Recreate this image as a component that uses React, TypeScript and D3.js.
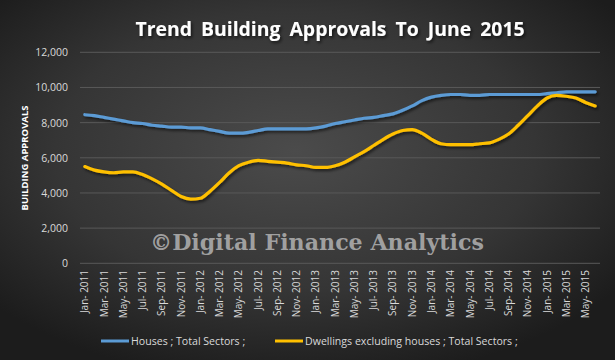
import React from 'react';
import * as d3 from 'd3';

const monthNames = ['Jan', 'Feb', 'Mar', 'Apr', 'May', 'Jun', 'Jul', 'Aug', 'Sep', 'Oct', 'Nov', 'Dec'];
const years = [2011, 2012, 2013, 2014, 2015];

const houses = [
  8450, 8400, 8300, 8200, 8100, 8000, 7950, 7850, 7800, 7750, 7750, 7700,
  7700, 7600, 7500, 7400, 7400, 7450, 7550, 7650, 7650, 7650, 7650, 7650,
  7700, 7800, 7950, 8050, 8150, 8250, 8300, 8400, 8500, 8700, 8950, 9250,
  9450, 9550, 9600, 9600, 9550, 9550, 9600, 9600, 9600, 9600, 9600, 9600,
  9650, 9700, 9750, 9750, 9750, 9750,
];
const dwellings = [
  5500, 5300, 5200, 5150, 5200, 5200, 5050, 4800, 4500, 4150, 3800, 3650,
  3700, 4100, 4600, 5150, 5550, 5750, 5850, 5800, 5750, 5700, 5600, 5550,
  5450, 5450, 5550, 5750, 6050, 6350, 6700, 7050, 7350, 7550, 7600, 7400,
  7050, 6800, 6750, 6750, 6750, 6800, 6850, 7050, 7350, 7850, 8400, 8950,
  9400, 9550, 9500, 9400, 9150, 8950,
];
const yTicks = [0, 2000, 4000, 6000, 8000, 10000, 12000];
const seriesNames = ['Houses ;  Total Sectors ;', 'Dwellings excluding houses ; Total Sectors ;'];
const seriesColors = ['#5b9bd5', '#ffc000'];

const months: string[] = [];
years.forEach((y) => monthNames.forEach((m) => months.push(`${m}-${y}`)));
const categories = months.slice(0, houses.length);

const W = 615;
const H = 360;
const left = 80;
const right = 600;
const top = 52.3;
const bottom = 263.3;

const App = () => {
  const x = d3.scaleBand().domain(categories).range([left, right]);
  const y = d3.scaleLinear().domain([0, 12000]).range([bottom, top]);
  const cx = (c: string) => (x(c) as number) + x.bandwidth() / 2;
  const line = d3
    .line<number>()
    .x((_, i) => cx(categories[i]))
    .y((d) => y(d))
    .curve(d3.curveMonotoneX);
  const labelCats = categories.filter((_, i) => i % 2 === 0);
  const font = "'Open Sans', sans-serif";

  return (
    <div style={{ position: 'absolute', left: 0, top: 0 }}>
      <svg width={W} height={H} style={{ display: 'block' }}>
        <defs>
          <radialGradient id="bg" cx="48%" cy="42%" r="65%">
            <stop offset="0%" stopColor="#4b4b4b" />
            <stop offset="60%" stopColor="#353535" />
            <stop offset="100%" stopColor="#1c1c1c" />
          </radialGradient>
          <filter id="sh" x="-5%" y="-20%" width="110%" height="140%">
            <feDropShadow dx="1.5" dy="2" stdDeviation="1.5" floodColor="#000" floodOpacity="0.6" />
          </filter>
        </defs>
        <rect width={W} height={H} fill="url(#bg)" />

        <text
          x={330}
          y={36}
          textAnchor="middle"
          fill="#ffffff"
          fontFamily={font}
          fontWeight="bold"
          fontSize={19.4}
          wordSpacing={4}
          filter="url(#sh)"
        >
          Trend Building Approvals To June 2015
        </text>

        {yTicks.map((t) => (
          <g key={t}>
            <line x1={left} x2={right} y1={y(t)} y2={y(t)} stroke="#595959" strokeWidth={1} />
            <text
              x={68}
              y={y(t) + 4}
              textAnchor="end"
              fill="#d9d9d9"
              fontFamily={font}
              fontSize={10.5}
            >
              {d3.format(',')(t)}
            </text>
          </g>
        ))}

        <text
          transform={`translate(28,158) rotate(-90)`}
          textAnchor="middle"
          fill="#ffffff"
          fontFamily={font}
          fontWeight="bold"
          fontSize={9.5}
        >
          BUILDING APPROVALS
        </text>

        {labelCats.map((c) => (
          <text
            key={c}
            transform={`translate(${cx(c) + 3.5},270) rotate(-90)`}
            textAnchor="end"
            fill="#d9d9d9"
            fontFamily={font}
            fontSize={10}
          >
            {c.replace('-', '- ')}
          </text>
        ))}

        <text
          x={317}
          y={250}
          textAnchor="middle"
          fill="#b3b3b3"
          fillOpacity={0.85}
          fontFamily="'DejaVu Serif', serif"
          fontWeight="bold"
          fontSize={22}
          textLength={334}
          lengthAdjust="spacingAndGlyphs"
        >
          ©Digital Finance Analytics
        </text>

        {[houses, dwellings].map((s, k) => (
          <path
            key={k}
            d={line(s) || ''}
            fill="none"
            stroke={seriesColors[k]}
            strokeWidth={3.2}
            strokeLinecap="round"
            strokeLinejoin="round"
            filter="url(#sh)"
          />
        ))}

        {seriesNames.map((n, k) => {
          const lx = k === 0 ? 101 : 275;
          return (
            <g key={n}>
              <line x1={lx} x2={lx + 28} y1={341} y2={341} stroke={seriesColors[k]} strokeWidth={3} />
              <text x={lx + 30} y={345} fill="#d9d9d9" fontFamily={font} fontSize={10.6}>
                {n}
              </text>
            </g>
          );
        })}
      </svg>
    </div>
  );
};

export default App;
